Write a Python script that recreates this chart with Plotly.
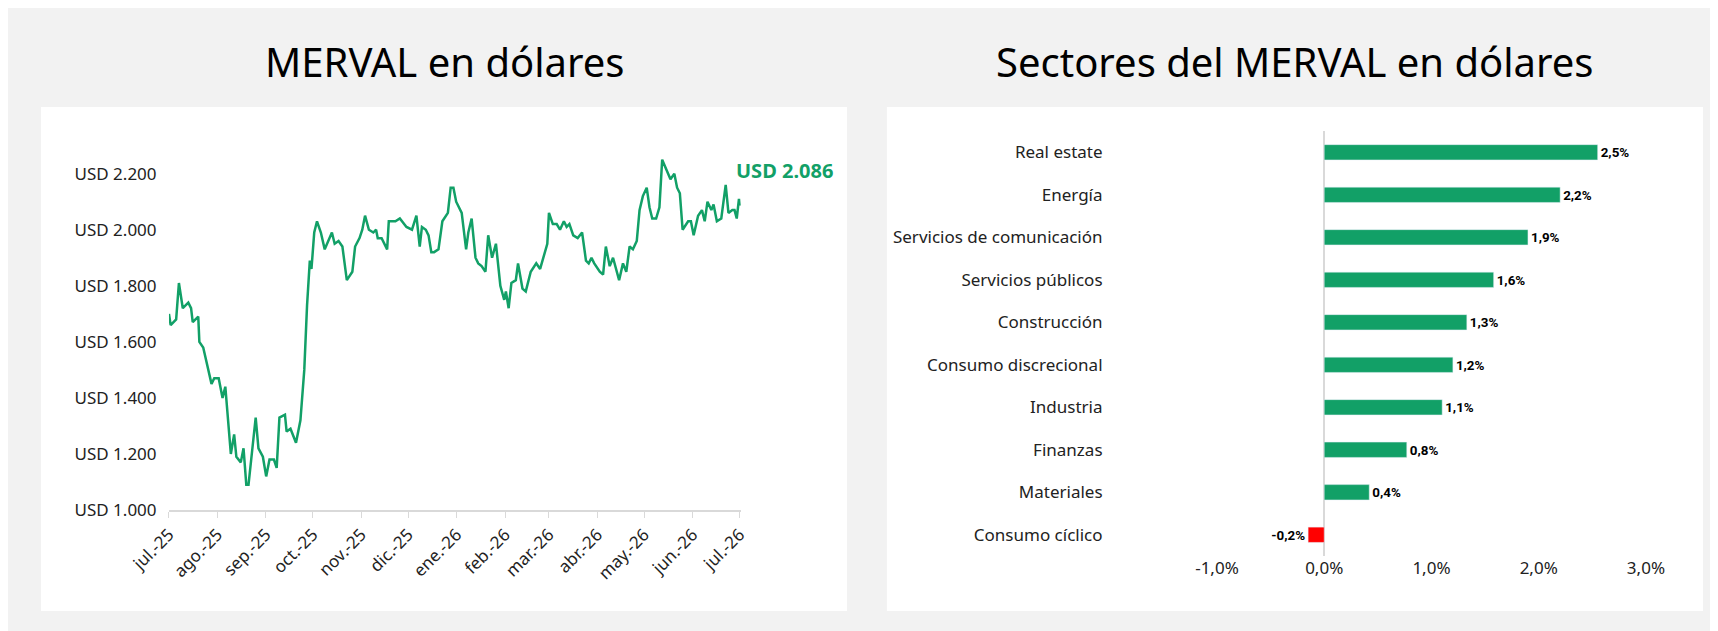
import plotly.graph_objects as go
import pandas as pd

# serie MERVAL en dolares (dias desde 1-jul-25, valor USD)
dias_px = [290, 293, 303, 308, 315, 325, 330, 333, 343, 345, 352, 362, 367, 372, 380, 387, 392, 402, 408, 412,
           420, 425, 430, 434, 442, 447, 452, 460, 466, 472, 480, 485, 490, 500, 503, 510, 520, 528, 535, 540,
           545, 548, 553, 558, 565, 572, 585, 590, 597, 604, 612, 622, 627, 635, 640, 645, 652, 660, 665, 668,
           675, 680, 685, 688, 695, 700, 708, 720, 730, 738, 744, 748, 755, 760, 765, 770, 778, 785, 795, 800,
           805, 810, 820, 828, 832, 838, 845, 850, 856, 863, 868, 875, 882, 890, 897, 900, 905, 910, 918, 922,
           930, 936, 945, 955, 962, 968, 975, 978, 985, 992, 998, 1005, 1010, 1015, 1022, 1030, 1038, 1045, 1050, 1055,
           1060, 1070, 1076, 1081, 1088, 1094, 1100, 1105, 1112, 1118, 1124, 1130, 1137, 1142, 1148, 1155, 1160, 1165, 1172, 1178,
           1183, 1190, 1198, 1205, 1210, 1215, 1220, 1230, 1235, 1240, 1248, 1255, 1260, 1265, 1272, 1276, 1282, 1290, 1298, 1303,
           1310, 1314, 1318, 1322, 1323]
valores = [1700, 1660, 1680, 1810, 1720, 1740, 1720, 1670, 1690, 1600, 1580, 1490, 1450, 1470, 1470, 1400, 1440, 1200, 1270, 1190,
           1170, 1220, 1090, 1090, 1250, 1330, 1220, 1190, 1120, 1180, 1180, 1150, 1330, 1340, 1280, 1290, 1240, 1320, 1500, 1730,
           1890, 1860, 1990, 2030, 1990, 1930, 1990, 1950, 1960, 1940, 1820, 1850, 1940, 1970, 2000, 2050, 2000, 1990, 2000, 1970,
           1970, 1950, 1930, 2030, 2030, 2030, 2040, 2010, 2000, 2050, 1940, 2010, 2000, 1980, 1920, 1920, 1930, 2030, 2060, 2150,
           2150, 2100, 2060, 1930, 1990, 2040, 1900, 1880, 1870, 1850, 1980, 1900, 1950, 1800, 1750, 1780, 1720, 1810, 1820, 1880,
           1790, 1780, 1850, 1880, 1860, 1900, 1950, 2060, 2020, 2020, 2000, 2030, 2010, 2020, 1980, 1970, 1990, 1890, 1880, 1900,
           1880, 1850, 1840, 1940, 1870, 1900, 1860, 1820, 1880, 1850, 1940, 1930, 1960, 2070, 2120, 2150, 2080, 2040, 2040, 2080,
           2250, 2220, 2180, 2200, 2150, 2130, 2000, 2030, 2030, 1980, 2050, 2070, 2030, 2100, 2070, 2090, 2030, 2040, 2160, 2060,
           2070, 2070, 2040, 2110, 2086]
inicio = pd.Timestamp("2025-07-01")
fechas = [inicio + pd.Timedelta(days=(p - 290) / 1033 * 365) for p in dias_px]

meses = pd.date_range("2025-07-01", "2026-07-01", freq="MS")
meses_lbl = ["jul.-25", "ago.-25", "sep.-25", "oct.-25", "nov.-25", "dic.-25", "ene.-26",
             "feb.-26", "mar.-26", "abr.-26", "may.-26", "jun.-26", "jul.-26"]
y_ticks = [1000, 1200, 1400, 1600, 1800, 2000, 2200]
y_lbl = ["USD 1.000", "USD 1.200", "USD 1.400", "USD 1.600", "USD 1.800", "USD 2.000", "USD 2.200"]

# sectores
sectores = ["Real estate", "Energía", "Servicios de comunicación", "Servicios públicos", "Construcción",
            "Consumo discrecional", "Industria", "Finanzas", "Materiales", "Consumo cíclico"]
variacion = [2.55, 2.2, 1.9, 1.58, 1.33, 1.2, 1.1, 0.77, 0.42, -0.15]
etiquetas = ["2,5%", "2,2%", "1,9%", "1,6%", "1,3%", "1,2%", "1,1%", "0,8%", "0,4%", "-0,2%"]

VERDE = "#12a067"
fig = go.Figure()

fig.add_trace(go.Scatter(x=fechas, y=valores, mode="lines", line=dict(color=VERDE, width=2.5),
                         xaxis="x", yaxis="y", showlegend=False))

colores = [VERDE if v >= 0 else "#ff0000" for v in variacion]
fig.add_trace(go.Bar(x=variacion, y=sectores, orientation="h", marker_color=colores, width=0.36,
                     text=etiquetas, textposition="outside", cliponaxis=False,
                     textfont=dict(size=14, color="black", family="Roboto", weight="bold"),
                     xaxis="x2", yaxis="y2", showlegend=False))

fig.update_layout(
    width=1718, height=631, margin=dict(l=0, r=0, t=0, b=0), autosize=False,
    paper_bgcolor="#f2f2f2", plot_bgcolor="white",
    font=dict(family="Noto Sans", size=17, color="#222"),
    xaxis=dict(domain=[0.0937, 0.4267], range=[meses[0], meses[-1] + pd.Timedelta(days=1)],
               tickvals=list(meses), ticktext=meses_lbl, tickangle=-45, automargin=False,
               showgrid=False, showline=True, linecolor="#d9d9d9", linewidth=2,
               ticks="outside", tickcolor="#d9d9d9", ticklen=6, tickfont=dict(size=17)),
    yaxis=dict(domain=[0.2044, 0.773], range=[1000, 2280], tickvals=y_ticks, ticktext=y_lbl,
               showgrid=False, zeroline=False, tickfont=dict(size=17), ticks="outside",
               tickcolor="white", ticklen=8, automargin=False),
    xaxis2=dict(domain=[0.7037, 0.9534], range=[-1, 3], tickvals=[-1, 0, 1, 2, 3],
                ticktext=["-1,0%", "0,0%", "1,0%", "2,0%", "3,0%"], showgrid=False,
                zeroline=True, zerolinecolor="#d9d9d9", zerolinewidth=2, anchor="y2",
                tickfont=dict(size=17), automargin=False),
    yaxis2=dict(domain=[0.1315, 0.805], autorange="reversed", anchor="x2", showgrid=False,
                ticks="outside", tickcolor="white", ticklen=110, tickfont=dict(size=17),
                automargin=False),
    shapes=[
        dict(type="rect", xref="paper", yref="paper", x0=0.0192, x1=0.4884, y0=0.0444, y1=0.843,
             fillcolor="white", line_width=0, layer="below"),
        dict(type="rect", xref="paper", yref="paper", x0=0.5116, x1=0.9866, y0=0.0444, y1=0.843,
             fillcolor="white", line_width=0, layer="below"),
    ],
    annotations=[
        dict(text="MERVAL en dólares", xref="paper", yref="paper", x=0.2538, y=0.915,
             xanchor="center", yanchor="middle", showarrow=False, font=dict(size=40, color="black")),
        dict(text="Sectores del MERVAL en dólares", xref="paper", yref="paper", x=0.749, y=0.915,
             xanchor="center", yanchor="middle", showarrow=False, font=dict(size=40, color="black")),
        dict(text="<b>USD 2.086</b>", x=fechas[-1], y=2210, xref="x", yref="y", showarrow=False,
             xanchor="left", xshift=-6, font=dict(size=20, color=VERDE)),
    ],
)

fig.write_html("out.html")
